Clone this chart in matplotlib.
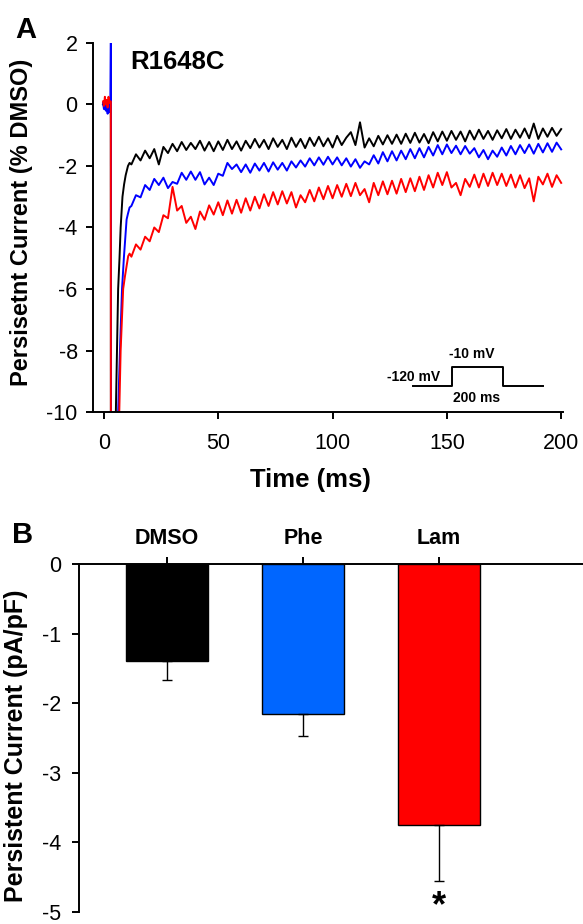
import numpy as np
import matplotlib
matplotlib.use('Agg')
import matplotlib.pyplot as plt

plt.rcParams['font.family'] = ['Liberation Sans', 'DejaVu Sans']
plt.rcParams['axes.unicode_minus'] = False
plt.rcParams['mathtext.fontset'] = 'custom'
plt.rcParams['mathtext.bf'] = 'Liberation Sans:bold'

# ---- panel A: traces (% DMSO) ----
pre_t = [-0.4, 0.0, 0.4, 0.8, 1.2, 1.6, 2.0, 2.4, 2.8]
pre_black = [0.0, 0.05, -0.1, 0.1, -0.05, 0.1, -0.1, 0.05, 0.0]
pre_blue = [0.05, -0.15, 0.1, -0.2, 0.05, -0.3, 0.1, -0.25, 0.0]
pre_red = [0.1, -0.05, 0.25, 0.0, 0.15, -0.1, 0.25, 0.05, 0.1]

# capacity transient at the step (goes off-scale)
jump_t_black = [3.0, 3.05]
jump_black = [0.0, -20.0]
jump_t_blue = [3.05, 3.1]
jump_blue = [3.0, -20.0]
jump_t_red = [3.0, 3.05]
jump_red = [0.1, -20.0]

rise_t_black = [5.0, 5.2, 5.7, 6.2, 6.8, 7.3, 8.1, 8.8, 9.5, 10.5, 11.2]
rise_black = [-20.0, -10.0, -8.0, -6.0, -5.0, -4.0, -3.0, -2.6, -2.3, -2.0, -1.9]
rise_t_blue = [6.0, 6.2, 7.0, 7.9, 8.7, 9.9, 10.5, 11.2]
rise_blue = [-20.0, -10.0, -8.0, -6.0, -5.0, -3.74, -3.55, -3.35]
rise_t_red = [6.5, 6.7, 7.3, 8.4, 9.2, 10.6, 11.2]
rise_red = [-20.0, -10.0, -8.0, -6.0, -5.58, -4.93, -4.85]

late_t = np.arange(12, 201, 2)
late_black = [
    -1.95, -1.62, -1.82, -1.50, -1.75, -1.45, -1.95, -1.38, -1.58, -1.28,
    -1.52, -1.22, -1.48, -1.25, -1.45, -1.18, -1.50, -1.22, -1.52, -1.20,
    -1.48, -1.15, -1.45, -1.20, -1.50, -1.18, -1.42, -1.12, -1.40, -1.15,
    -1.45, -1.10, -1.38, -1.15, -1.45, -1.08, -1.38, -1.12, -1.42, -1.08,
    -1.35, -1.05, -1.36, -1.10, -1.40, -1.02, -1.32, -1.08, -0.90, -1.32,
    -0.58, -1.40, -1.10, -1.36, -1.02, -1.30, -1.00, -1.28, -0.98, -1.28,
    -0.95, -1.25, -0.92, -1.24, -0.96, -1.26, -0.90, -1.20, -0.88, -1.18,
    -0.86, -1.15, -0.88, -1.20, -0.85, -1.14, -0.82, -1.12, -0.86, -1.15,
    -0.84, -1.10, -0.80, -1.12, -0.82, -1.08, -0.78, -1.10, -0.62, -1.12,
    -0.78, -1.05, -0.76, -1.02, -0.80]
late_blue = [
    -3.30, -2.95, -3.02, -2.62, -2.78, -2.42, -2.62, -2.38, -2.72, -2.52,
    -2.58, -2.22, -2.45, -2.18, -2.45, -2.20, -2.60, -2.38, -2.62, -2.25,
    -2.32, -1.90, -2.10, -1.95, -2.20, -1.95, -2.22, -1.92, -2.15, -1.90,
    -2.18, -1.88, -2.12, -1.90, -2.15, -1.85, -2.05, -1.82, -2.02, -1.75,
    -1.98, -1.72, -1.96, -1.70, -1.95, -1.72, -1.98, -1.75, -2.02, -1.78,
    -2.06, -1.85, -1.95, -1.65, -1.92, -1.55, -1.85, -1.52, -1.82, -1.50,
    -1.78, -1.45, -1.75, -1.42, -1.72, -1.38, -1.66, -1.32, -1.62, -1.30,
    -1.58, -1.34, -1.62, -1.35, -1.60, -1.42, -1.72, -1.48, -1.78, -1.50,
    -1.70, -1.40, -1.66, -1.35, -1.62, -1.32, -1.58, -1.30, -1.60, -1.28,
    -1.56, -1.26, -1.54, -1.24, -1.46]
late_red = [
    -4.95, -4.55, -4.72, -4.30, -4.45, -4.00, -4.15, -3.60, -3.70, -2.68,
    -3.45, -3.30, -3.85, -3.65, -4.05, -3.48, -3.75, -3.28, -3.58, -3.18,
    -3.60, -3.12, -3.55, -3.10, -3.52, -3.05, -3.45, -3.00, -3.38, -2.92,
    -3.30, -2.85, -3.25, -2.82, -3.22, -2.85, -3.35, -2.95, -3.18, -2.78,
    -3.15, -2.70, -3.08, -2.65, -3.05, -2.62, -3.00, -2.58, -2.98, -2.55,
    -2.95, -2.75, -3.18, -2.55, -2.95, -2.50, -2.92, -2.48, -2.90, -2.42,
    -2.85, -2.40, -2.82, -2.35, -2.78, -2.30, -2.70, -2.22, -2.62, -2.20,
    -2.70, -2.55, -2.95, -2.42, -2.68, -2.28, -2.70, -2.25, -2.65, -2.22,
    -2.62, -2.25, -2.65, -2.28, -2.70, -2.30, -2.72, -2.40, -3.15, -2.35,
    -2.60, -2.25, -2.68, -2.30, -2.55]

# voltage protocol inset (drawn in data units of panel A)
prot_t = [135.2, 152.2, 152.2, 174.5, 174.5, 192.0]
prot_v = [-9.14, -9.14, -8.55, -8.55, -9.14, -9.14]

# ---- panel B: bar chart ----
groups = ['DMSO', 'Phe', 'Lam']
mean_current = [-1.40, -2.15, -3.75]
sem_current = [0.27, 0.32, 0.81]
bar_colors = ['#000000', '#0066FF', '#FF0000']


def build(pre, jt, jv, rt, rv, lv):
    t = np.concatenate([pre_t, jt, rt, late_t])
    v = np.concatenate([pre, jv, rv, lv])
    return t, v


fig = plt.figure(figsize=(5.83, 9.24), dpi=100)

axA = fig.add_axes([0.1595, 0.5541, 0.8062, 0.3994])
tb, vb = build(pre_black, jump_t_black, jump_black, rise_t_black, rise_black, late_black)
tu, vu = build(pre_blue, jump_t_blue, jump_blue, rise_t_blue, rise_blue, late_blue)
tr, vr = build(pre_red, jump_t_red, jump_red, rise_t_red, rise_red, late_red)
axA.plot(tb, vb, color='black', lw=1.4)
axA.plot(tu, vu, color='#0000FF', lw=1.4)
axA.plot(tr, vr, color='#FF0000', lw=1.4)
axA.plot(prot_t, prot_v, color='black', lw=1.4)
axA.text(160.7, -8.1, '-10 mV', fontsize=10, fontweight='bold', ha='center', va='center')
axA.text(147.0, -8.85, '-120 mV', fontsize=10, fontweight='bold', ha='right', va='center')
axA.text(163.0, -9.53, '200 ms', fontsize=10, fontweight='bold', ha='center', va='center')
axA.text(11.4, 1.14, 'R1648C', fontsize=18.5, fontweight='bold', ha='left', va='baseline')

axA.set_xlim(-4.8, 200.8)
axA.set_ylim(-10, 2)
axA.set_xticks([0, 50, 100, 150, 200])
axA.set_yticks(range(-10, 3, 2))
axA.spines['top'].set_visible(False)
axA.spines['right'].set_visible(False)
for s in ['left', 'bottom']:
    axA.spines[s].set_linewidth(1.4)
axA.tick_params(direction='out', length=5, width=1.4, labelsize=15.5)
axA.tick_params(axis='y', pad=6)
axA.tick_params(axis='x', pad=10)
axA.set_xlabel('Time (ms)', fontsize=18.5, fontweight='bold')
axA.set_ylabel('Persisetnt Current (% DMSO)', fontsize=17, fontweight='bold')
axA.xaxis.set_label_coords(0.462, -0.152)
axA.yaxis.set_label_coords(-0.128, 0.515)

axB = fig.add_axes([0.1355, 0.013, 0.8645, 0.3766])
x = np.arange(len(groups))
axB.bar(x, mean_current, width=0.6, color=bar_colors, edgecolor='black', linewidth=1.0)
axB.errorbar(x, mean_current, yerr=[sem_current, [0, 0, 0]], fmt='none',
             ecolor='black', elinewidth=1.0, capsize=3.5, capthick=1.0)
axB.text(2, -4.91, r'$\mathbf{*}$', fontsize=26, ha='center', va='center')
axB.set_xlim(-0.647, 3.059)
axB.set_ylim(-5, 0)
axB.set_yticks([0, -1, -2, -3, -4, -5])
axB.xaxis.tick_top()
axB.set_xticks(x)
axB.set_xticklabels(groups, fontsize=14.5, fontweight='bold')
axB.spines['bottom'].set_visible(False)
axB.spines['right'].set_visible(False)
for s in ['left', 'top']:
    axB.spines[s].set_linewidth(1.4)
axB.tick_params(direction='out', length=5, width=1.4, labelsize=15.5)
axB.tick_params(axis='y', pad=8)
axB.tick_params(axis='x', pad=6)
axB.set_ylabel('Persistent Current (pA/pF)', fontsize=18, fontweight='bold')
axB.yaxis.set_label_coords(-0.101, 0.477)

fig.text(15 / 583, 1 - 38 / 924, 'A', fontsize=21, fontweight='bold', ha='left', va='baseline')
fig.text(12 / 583, 1 - 543 / 924, 'B', fontsize=21, fontweight='bold', ha='left', va='baseline')

fig.savefig('out.png', dpi=100)
